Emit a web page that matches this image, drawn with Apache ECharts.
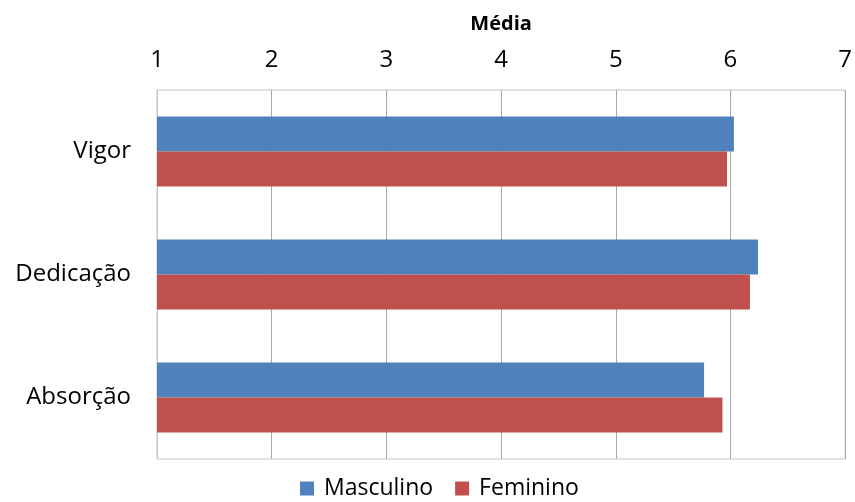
<!DOCTYPE html>
<html lang="pt">

<head>
    <meta charset="UTF-8">
    <title>Média por sexo</title>
    <script src="https://cdn.jsdelivr.net/npm/echarts@6/dist/echarts.min.js"></script>
    <style>
        html,
        body {
            margin: 0;
            padding: 0;
            background: #fff;
        }

        .box {
            width: 855px;
            height: 502px;
        }
    </style>
</head>

<body>
    <div class="box"></div>

    <script>
        // dados
        var categorias = ['Vigor', 'Dedicação', 'Absorção'];
        var masculino = [6.03, 6.24, 5.77];
        var feminino = [5.97, 6.17, 5.93];
        var ticks = [1, 2, 3, 4, 5, 6, 7];

        var fonte = "'Open Sans', 'Noto Sans', sans-serif";

        var myChart = echarts.init(document.querySelector('.box'));

        var option = {
            animation: false,
            textStyle: { fontFamily: fonte },
            grid: {
                left: 157,
                right: 9,
                top: 90,
                bottom: 43,
                show: true,
                borderColor: '#c4c4c4',
                borderWidth: 1
            },
            legend: {
                data: ['Masculino', 'Feminino'],
                top: 477,
                left: 300,
                padding: 0,
                icon: 'rect',
                itemWidth: 14,
                itemHeight: 14,
                itemGap: 22,
                textStyle: { fontSize: 23, color: '#000', fontFamily: fonte, padding: [0, 0, 0, 5] }
            },
            xAxis: {
                type: 'value',
                position: 'top',
                min: ticks[0],
                max: ticks[ticks.length - 1],
                interval: 1,
                name: 'Média',
                nameLocation: 'middle',
                nameGap: 56,
                nameTextStyle: { fontSize: 20, fontWeight: 'bold', color: '#000' },
                axisLine: { show: false },
                axisTick: { show: false },
                axisLabel: { fontSize: 24, color: '#000', margin: 18 },
                splitLine: { lineStyle: { color: '#a8a8a8' } }
            },
            yAxis: {
                type: 'category',
                data: categorias,
                inverse: true,
                axisLine: { lineStyle: { color: '#c4c4c4' } },
                axisTick: { show: false },
                axisLabel: { fontSize: 24, color: '#000', margin: 26 }
            },
            series: [{
                name: 'Masculino',
                type: 'bar',
                data: masculino,
                barGap: 0,
                barCategoryGap: '43%',
                itemStyle: { color: '#4f81bd' }
            }, {
                name: 'Feminino',
                type: 'bar',
                data: feminino,
                itemStyle: { color: '#c0504d' }
            }]
        };

        myChart.setOption(option);
    </script>
</body>

</html>
